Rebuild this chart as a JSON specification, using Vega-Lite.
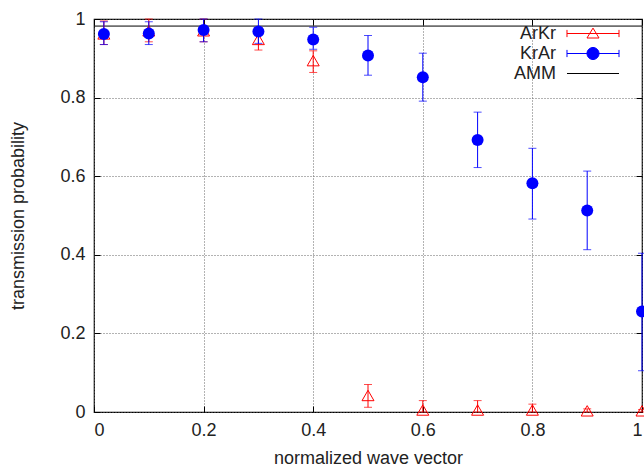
{
  "$schema": "https://vega.github.io/schema/vega-lite/v6.json",
  "width": 548,
  "height": 393,
  "autosize": {"type": "none"},
  "padding": {"left": 94, "top": 19, "right": 2, "bottom": 56},
  "config": {
    "font": "Liberation Sans",
    "view": {"stroke": "black", "strokeWidth": 1.2},
    "axis": {
      "labelFont": "Liberation Sans",
      "titleFont": "Liberation Sans",
      "labelFontSize": 18,
      "titleFontSize": 18,
      "titleFontWeight": "normal",
      "labelColor": "#222",
      "titleColor": "#222",
      "domain": false,
      "tickColor": "black",
      "tickSize": -6,
      "gridColor": "#666",
      "gridDash": [1, 2],
      "gridWidth": 1
    }
  },
  "datasets": {
    "pts": [
      {"series": "ArKr", "x": 0.018, "y": 0.962, "lo": 0.935, "hi": 0.995},
      {"series": "ArKr", "x": 0.1, "y": 0.970, "lo": 0.942, "hi": 1.0},
      {"series": "ArKr", "x": 0.2, "y": 0.970, "lo": 0.942, "hi": 1.0},
      {"series": "ArKr", "x": 0.3, "y": 0.948, "lo": 0.921, "hi": 0.978},
      {"series": "ArKr", "x": 0.4, "y": 0.894, "lo": 0.864, "hi": 0.919},
      {"series": "ArKr", "x": 0.5, "y": 0.042, "lo": 0.012, "hi": 0.070},
      {"series": "ArKr", "x": 0.6, "y": 0.005, "lo": 0.0, "hi": 0.029},
      {"series": "ArKr", "x": 0.7, "y": 0.005, "lo": 0.0, "hi": 0.029},
      {"series": "ArKr", "x": 0.8, "y": 0.005, "lo": 0.0, "hi": 0.020},
      {"series": "ArKr", "x": 0.9, "y": 0.003, "lo": 0.0, "hi": 0.008},
      {"series": "ArKr", "x": 1.0, "y": 0.003, "lo": 0.0, "hi": 0.006},
      {"series": "KrAr", "x": 0.018, "y": 0.962, "lo": 0.935, "hi": 0.993},
      {"series": "KrAr", "x": 0.1, "y": 0.963, "lo": 0.935, "hi": 0.993},
      {"series": "KrAr", "x": 0.2, "y": 0.972, "lo": 0.942, "hi": 1.0},
      {"series": "KrAr", "x": 0.3, "y": 0.968, "lo": 0.938, "hi": 1.0},
      {"series": "KrAr", "x": 0.4, "y": 0.948, "lo": 0.923, "hi": 0.979},
      {"series": "KrAr", "x": 0.5, "y": 0.907, "lo": 0.857, "hi": 0.958},
      {"series": "KrAr", "x": 0.6, "y": 0.852, "lo": 0.791, "hi": 0.913},
      {"series": "KrAr", "x": 0.7, "y": 0.692, "lo": 0.622, "hi": 0.763},
      {"series": "KrAr", "x": 0.8, "y": 0.582, "lo": 0.491, "hi": 0.671},
      {"series": "KrAr", "x": 0.9, "y": 0.513, "lo": 0.413, "hi": 0.613},
      {"series": "KrAr", "x": 1.0, "y": 0.256, "lo": 0.105, "hi": 0.404}
    ],
    "amm": [{"series": "AMM", "y": 0.982}]
  },
  "layer": [
    {
      "data": {"name": "amm"},
      "mark": {"type": "rule", "strokeWidth": 1},
      "encoding": {
        "y": {"field": "y", "type": "quantitative", "scale": {"domain": [0, 1], "nice": false}, "axis": null},
        "color": {
          "field": "series", "type": "nominal",
          "scale": {"domain": ["ArKr", "KrAr", "AMM"], "range": ["#ff0000", "#0000ff", "#000000"]},
          "legend": {
            "orient": "none",
            "legendX": 499,
            "legendY": 5,
            "title": null,
            "padding": 0,
            "labelFont": "Liberation Sans",
            "labelFontSize": 18,
            "labelColor": "#222",
            "symbolSize": 324,
            "rowPadding": 1,
            "encode": {
              "symbols": {
                "update": {
                  "x": {"value": 0},
                  "shape": [
                    {"test": "datum.value === 'ArKr'", "value": "M-2.89,0H2.89M-2.89,-0.4V0.4M2.89,-0.4V0.4M-0.67,0.5L0.67,0.5L0,-0.6Z"},
                    {"test": "datum.value === 'KrAr'", "value": "M-2.89,0H2.89M-2.89,-0.4V0.4M2.89,-0.4V0.4M0.67,0A0.67,0.67 0 1,1 -0.67,0A0.67,0.67 0 1,1 0.67,0Z"},
                    {"value": "M-2.89,0H2.89"}
                  ],
                  "fill": [
                    {"test": "datum.value === 'KrAr'", "value": "#0000ff"},
                    {"value": "#ffffff"}
                  ],
                  "fillOpacity": [
                    {"test": "datum.value === 'KrAr'", "value": 1},
                    {"value": 0}
                  ],
                  "stroke": [
                    {"test": "datum.value === 'ArKr'", "value": "#ff0000"},
                    {"test": "datum.value === 'KrAr'", "value": "#0000ff"},
                    {"value": "#000000"}
                  ],
                  "strokeWidth": {"value": 1},
                  "opacity": {"value": 1}
                }
              },
              "labels": {
                "update": {
                  "x": {"value": -37},
                  "align": {"value": "right"}
                }
              }
            }
          }
        }
      }
    },
    {
      "data": {"name": "pts"},
      "transform": [{"filter": "datum.series === 'ArKr'"}],
      "layer": [
        {
          "mark": {"type": "rule", "strokeWidth": 1},
          "encoding": {
            "x": {
              "field": "x", "type": "quantitative",
              "scale": {"domain": [0, 1], "nice": false},
              "axis": {"orient": "bottom", "values": [0, 0.2, 0.4, 0.6, 0.8, 1], "format": "~g", "title": "normalized wave vector", "grid": true, "labelPadding": 15, "titlePadding": 10}
            },
            "y": {
              "field": "lo", "type": "quantitative",
              "scale": {"domain": [0, 1], "nice": false},
              "axis": {"orient": "left", "values": [0, 0.2, 0.4, 0.6, 0.8, 1], "format": "~g", "title": "transmission probability", "grid": true, "labelPadding": 15, "titlePadding": 32}
            },
            "y2": {"field": "hi"},
            "color": {"field": "series", "type": "nominal"}
          }
        },
        {
          "mark": {"type": "tick", "orient": "horizontal", "size": 8, "thickness": 1},
          "encoding": {
            "x": {"field": "x", "type": "quantitative"},
            "y": {"field": "lo", "type": "quantitative"},
            "color": {"field": "series", "type": "nominal"}
          }
        },
        {
          "mark": {"type": "tick", "orient": "horizontal", "size": 8, "thickness": 1},
          "encoding": {
            "x": {"field": "x", "type": "quantitative"},
            "y": {"field": "hi", "type": "quantitative"},
            "color": {"field": "series", "type": "nominal"}
          }
        },
        {
          "mark": {"type": "point", "shape": "triangle-up", "filled": false, "size": 144, "strokeWidth": 1, "opacity": 1},
          "encoding": {
            "x": {"field": "x", "type": "quantitative"},
            "y": {"field": "y", "type": "quantitative"},
            "color": {"field": "series", "type": "nominal"}
          }
        }
      ]
    },
    {
      "data": {"name": "pts"},
      "transform": [{"filter": "datum.series === 'KrAr'"}],
      "layer": [
        {
          "mark": {"type": "rule", "strokeWidth": 1},
          "encoding": {
            "x": {
              "field": "x", "type": "quantitative",
              "axis": {"orient": "top", "values": [0, 0.2, 0.4, 0.6, 0.8, 1], "labels": false, "title": null, "grid": false}
            },
            "y": {
              "field": "lo", "type": "quantitative",
              "axis": {"orient": "right", "values": [0, 0.2, 0.4, 0.6, 0.8, 1], "labels": false, "title": null, "grid": false}
            },
            "y2": {"field": "hi"},
            "color": {"field": "series", "type": "nominal"}
          }
        },
        {
          "mark": {"type": "tick", "orient": "horizontal", "size": 8, "thickness": 1},
          "encoding": {
            "x": {"field": "x", "type": "quantitative"},
            "y": {"field": "lo", "type": "quantitative"},
            "color": {"field": "series", "type": "nominal"}
          }
        },
        {
          "mark": {"type": "tick", "orient": "horizontal", "size": 8, "thickness": 1},
          "encoding": {
            "x": {"field": "x", "type": "quantitative"},
            "y": {"field": "hi", "type": "quantitative"},
            "color": {"field": "series", "type": "nominal"}
          }
        },
        {
          "mark": {"type": "circle", "size": 144, "opacity": 1},
          "encoding": {
            "x": {"field": "x", "type": "quantitative"},
            "y": {"field": "y", "type": "quantitative"},
            "color": {"field": "series", "type": "nominal"}
          }
        }
      ]
    }
  ],
  "resolve": {"axis": {"x": "independent", "y": "independent"}}
}
